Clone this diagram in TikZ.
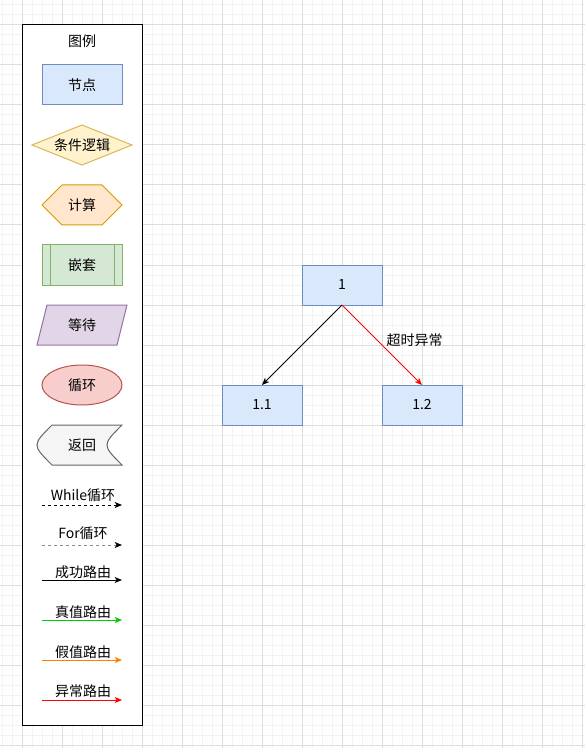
\documentclass[tikz,border=0pt]{standalone}
\usepackage{fontspec}
\setmainfont{Noto Sans CJK SC}
\usepackage{tikz}
\usetikzlibrary{positioning, calc, shapes.geometric}
\usetikzlibrary{arrows.meta}
\definecolor{gridminor}{HTML}{F3F3F3}
\definecolor{gridmajor}{HTML}{DDDDDD}
\definecolor{bluefill}{HTML}{DAE8FC}
\definecolor{blueline}{HTML}{6C8EBF}
\definecolor{yellowfill}{HTML}{FFF2CC}
\definecolor{yellowline}{HTML}{D6B656}
\definecolor{orangefill}{HTML}{FFE6CC}
\definecolor{orangeline}{HTML}{D79B00}
\definecolor{greenfill}{HTML}{D5E8D4}
\definecolor{greenline}{HTML}{82B366}
\definecolor{purplefill}{HTML}{E1D5E7}
\definecolor{purpleline}{HTML}{9673A6}
\definecolor{redfill}{HTML}{F8CECC}
\definecolor{redline}{HTML}{B85450}
\definecolor{grayfill}{HTML}{F5F5F5}
\definecolor{grayline}{HTML}{666666}
\definecolor{forgray}{HTML}{8C8C8C}
\definecolor{truegreen}{HTML}{00CC00}
\definecolor{falseorange}{HTML}{FF8000}
\definecolor{errorred}{HTML}{FF0000}
\tikzstyle{nodebox}=[rectangle,draw=blueline,fill=bluefill,line width=0.75pt,minimum width=60pt,minimum height=30pt,inner sep=0pt,outer sep=0pt]
\tikzstyle{nestbox}=[rectangle,draw=greenline,fill=greenfill,line width=0.75pt,minimum width=60pt,minimum height=30pt,inner sep=0pt,outer sep=0pt]
\tikzstyle{loopbox}=[ellipse,draw=redline,fill=redfill,line width=0.75pt,minimum width=60pt,minimum height=30pt,inner sep=0pt,outer sep=0pt]
\tikzstyle{labeltext}=[inner sep=0pt]
\tikzstyle{edgepath}=[-{Stealth[length=5.5pt,width=4.5pt,inset=1.5pt]},line width=0.75pt]

\begin{document}
\begin{tikzpicture}[x=0.75pt,y=-0.75pt,every node/.style={font=\fontsize{10.5}{12}\selectfont}]
        \useasboundingbox (0,0) rectangle (585,748);
        % grid
        \fill[white] (0,0) rectangle (585,748);
        \foreach \x in {2,12,...,582}
            \draw[gridminor,line width=0.75pt] (\x,0) -- (\x,748);
        \foreach \y in {5,15,...,745}
            \draw[gridminor,line width=0.75pt] (0,\y) -- (585,\y);
        \foreach \x in {22,62,...,582}
            \draw[gridmajor,line width=0.75pt] (\x,0) -- (\x,748);
        \foreach \y in {25,65,...,745}
            \draw[gridmajor,line width=0.75pt] (0,\y) -- (585,\y);

        % legend
        \draw[line width=0.75pt,fill=white] (22,25) rectangle (142,725);
        \node[labeltext] (title) at (82,41) {图例};
        \node[nodebox] (leafbox) at (82,85) {节点};
        \draw[draw=yellowline,fill=yellowfill,line width=0.75pt]
            (32,145) -- (82,125) -- (132,145) -- (82,165) -- cycle;
        \node[labeltext] (cond) at (82,145) {条件逻辑};
        \draw[draw=orangeline,fill=orangefill,line width=0.75pt]
            (42,205) -- (62,185) -- (102,185) -- (122,205) -- (102,225) -- (62,225) -- cycle;
        \node[labeltext] (calc) at (82,205) {计算};
        \node[nestbox] (nest) at (82,265) {嵌套};
        \draw[greenline,line width=0.75pt]
            ($(nest.north west)+(8,0)$) -- ($(nest.south west)+(8,0)$)
            ($(nest.north east)+(-8,0)$) -- ($(nest.south east)+(-8,0)$);
        \draw[draw=purpleline,fill=purplefill,line width=0.75pt]
            (47,305) -- (127,305) -- (117,345) -- (37,345) -- cycle;
        \node[labeltext] (wait) at (82,325) {等待};
        \node[loopbox] (loop) at (82,385) {循环};
        \draw[draw=grayline,fill=grayfill,line width=0.75pt]
            (52,425) -- (122,425) .. controls (102,445) .. (122,465)
            -- (52,465) .. controls (32,445) .. (52,425) -- cycle;
        \node[labeltext] (ret) at (82,445) {返回};

        \node[labeltext] (lwhile) at (83,495) {While循环};
        \draw[edgepath,dash pattern=on 2.25pt off 2.25pt] (42,505) -- (122,505);
        \node[labeltext] (lfor) at (83,533) {For循环};
        \draw[-{Stealth[length=5.5pt,width=4.5pt,inset=1.5pt,color=black]},line width=0.75pt,forgray,dash pattern=on 2.25pt off 2.25pt] (42,545) -- (122,545);
        \node[labeltext] (lok) at (83,572) {成功路由};
        \draw[edgepath] (42,580) -- (122,580);
        \node[labeltext] (ltrue) at (83,612) {真值路由};
        \draw[edgepath,truegreen] (42,620) -- (122,620);
        \node[labeltext] (lfalse) at (83,652) {假值路由};
        \draw[edgepath,falseorange] (42,660) -- (122,660);
        \node[labeltext] (lerr) at (83,691) {异常路由};
        \draw[edgepath,errorred] (42,700) -- (122,700);

        % tree
        \node[nodebox] (n1) at (342,285) {1};
        \node[nodebox, below left =60pt and 0pt of n1] (n11) {1.1};
        \node[nodebox, below right =60pt and 0pt of n1] (n12) {1.2};

        \draw[edgepath] (n1.south) -- (n11.north);
        \draw[edgepath,errorred] (n1.south) -- (n12.north)
            node[midway,anchor=west,inner sep=0pt,xshift=3pt,yshift=3.75pt,text=black] {超时异常};
    \end{tikzpicture}
\end{document}
